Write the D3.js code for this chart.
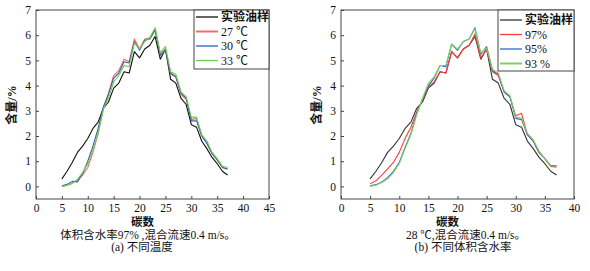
<!doctype html>
<html lang="zh">
<head>
  <meta charset="utf-8">
  <title>碳数分布</title>
  <script src="https://d3js.org/d3.v7.min.js"></script>
  <style>
    html, body { margin: 0; padding: 0; background: #fff; }
    svg { display: block; }
    text { font-family: "Liberation Serif", "Times New Roman", "Noto Sans CJK SC", serif; fill: #111; }
    .tick text { font-size: 11.5px; }
    .frame { fill: none; stroke: #444; stroke-width: 1; }
  </style>
</head>
<body>
<div id="chart"></div>
<script>
const carbon = d3.range(5, 38);

// 实验油样 (same in both panels)
const oilSample = [0.3,0.6,0.95,1.35,1.6,1.9,2.3,2.55,3.1,3.35,3.9,4.1,4.55,4.5,5.35,5.1,5.45,5.6,5.95,5.05,5.45,4.25,4.1,3.5,3.25,2.45,2.35,1.8,1.5,1.15,0.9,0.6,0.45];

// (a) 不同温度
const t27 = [0.0,0.05,0.12,0.25,0.45,0.75,1.35,2.1,3.1,3.7,4.4,4.6,5.05,4.95,5.85,5.45,5.85,5.9,6.25,5.25,5.45,4.45,4.35,3.65,3.45,2.65,2.7,2.0,1.75,1.3,1.05,0.75,0.7];
const t30 = [0.02,0.08,0.2,0.18,0.5,1.0,1.6,2.3,3.15,3.65,4.3,4.5,4.95,4.9,5.75,5.4,5.8,5.85,6.2,5.2,5.4,4.5,4.35,3.7,3.5,2.6,2.6,2.0,1.7,1.3,1.05,0.75,0.68];
const t33 = [0.0,0.05,0.12,0.28,0.55,0.9,1.45,2.1,3.05,3.5,4.15,4.4,4.8,4.75,5.7,5.45,5.75,5.9,6.3,5.3,5.55,4.55,4.45,3.75,3.55,2.75,2.75,2.05,1.8,1.35,1.1,0.8,0.75];

// (b) 不同体积含水率
const w97 = [0.1,0.22,0.45,0.7,0.95,1.35,1.9,2.35,2.95,3.45,3.95,4.15,4.55,4.5,5.35,5.1,5.45,5.6,6.05,5.1,5.45,4.55,4.4,3.75,3.55,2.8,2.9,2.05,1.8,1.35,1.1,0.8,0.8];
const w95 = [0.02,0.07,0.17,0.35,0.6,0.95,1.55,2.1,2.9,3.45,4.0,4.3,4.8,4.75,5.65,5.4,5.75,5.85,6.3,5.25,5.55,4.6,4.45,3.75,3.55,2.7,2.65,2.05,1.8,1.35,1.1,0.82,0.82];
const w93 = [0.0,0.05,0.15,0.3,0.55,0.9,1.5,2.05,2.85,3.5,4.1,4.35,4.8,4.8,5.65,5.45,5.75,5.85,6.25,5.3,5.5,4.65,4.5,3.8,3.6,2.75,2.7,2.1,1.85,1.4,1.1,0.78,0.75];

const yTicks = [0,1,2,3,4,5,6,7];
const xTicksA = [0,5,10,15,20,25,30,35,40,45];
const xTicksB = [0,5,10,15,20,25,30,35,40];

const W = 590, H = 271;
const svg = d3.select('#chart').append('svg').attr('width', W).attr('height', H);

function clean(a) {
  a.attr('font-family', null).attr('font-size', null);
  a.select('.domain').remove();
  a.selectAll('line').attr('stroke', '#444');
  a.selectAll('text').attr('fill', '#111');
}

function panel(o) {
  const x = d3.scaleLinear().domain(o.xDomain).range([o.left, o.right]);
  const y = d3.scaleLinear().domain([-0.5, 7]).range([199, 10]);
  const g = svg.append('g');

  g.append('g').attr('transform', `translate(${o.left},0)`)
    .call(d3.axisLeft(y).tickValues(yTicks).tickSize(-3).tickPadding(5).tickFormat(d3.format('d')))
    .call(clean);
  g.append('g').attr('transform', 'translate(0,199)')
    .call(d3.axisBottom(x).tickValues(o.xTicks).tickSize(-3).tickPadding(5).tickFormat(d3.format('d')))
    .call(clean);

  g.append('rect').attr('class', 'frame')
    .attr('x', o.left).attr('y', 10)
    .attr('width', o.right - o.left).attr('height', 189);

  const line = d3.line().x((d, i) => x(carbon[i])).y(d => y(d));
  o.series.forEach(s => {
    g.append('path').datum(s.values)
      .attr('fill', 'none').attr('stroke', s.color).attr('stroke-width', 1.1)
      .attr('stroke-linejoin', 'round').attr('d', line);
  });

  // legend
  const lg = g.append('g');
  lg.append('rect').attr('x', o.legX).attr('y', 10)
    .attr('width', o.right - o.legX).attr('height', o.legH)
    .attr('fill', '#fff').attr('stroke', '#444');
  o.series.forEach((s, i) => {
    const yy = o.legY0 + i * 14.5;
    lg.append('line').attr('x1', o.legX + 2).attr('x2', o.legX + 24)
      .attr('y1', yy).attr('y2', yy).attr('stroke', s.color).attr('stroke-width', s.lw || 1.3);
    lg.append('text').attr('x', o.legX + 27).attr('y', yy + 4)
      .attr('font-size', i === 0 ? 12 : 12).attr('font-weight', i === 0 ? 'bold' : 'normal')
      .text(s.name);
  });

  const cx = (o.left + o.right) / 2;
  g.append('text')
    .attr('transform', `translate(${o.left - 20},105) rotate(-90)`)
    .attr('text-anchor', 'middle').attr('font-size', 12).attr('font-weight', 'bold')
    .text('含量/%');
  g.append('text').attr('x', cx - 10).attr('y', 226)
    .attr('text-anchor', 'middle').attr('font-size', 11.5).attr('font-weight', 'bold').text('碳数');
  g.append('text').attr('x', o.cap1X).attr('y', 238.5)
    .attr('text-anchor', 'middle').attr('font-size', 11.5).text(o.cap1);
  g.append('text').attr('x', o.cap2X).attr('y', 250.5)
    .attr('text-anchor', 'middle').attr('font-size', 11.5).text(o.cap2);
}

panel({
  left: 36, right: 269, xDomain: [0, 45], xTicks: xTicksA,
  legX: 194, legH: 59, legY0: 17,
  series: [
    { name: '实验油样', values: oilSample, color: '#111' },
    { name: '27 ℃', values: t27, color: '#f46a6a', lw: 2 },
    { name: '30 ℃', values: t30, color: '#2f5fb8' },
    { name: '33 ℃', values: t33, color: '#6ccc4e' }
  ],
  cap1: '体积含水率97% ,混合流速0.4 m/s。', cap1X: 148,
  cap2: '(a) 不同温度', cap2X: 142
});

panel({
  left: 341, right: 574, xDomain: [0, 40], xTicks: xTicksB,
  legX: 498, legH: 61, legY0: 20,
  series: [
    { name: '实验油样', values: oilSample, color: '#333' },
    { name: '97%', values: w97, color: '#ff3b3b' },
    { name: '95%', values: w95, color: '#3366cc' },
    { name: '93 %', values: w93, color: '#7fd35a', lw: 2 }
  ],
  cap1: '28 ℃,混合流速0.4 m/s。', cap1X: 466,
  cap2: '(b) 不同体积含水率', cap2X: 463
});
</script>
</body>
</html>
